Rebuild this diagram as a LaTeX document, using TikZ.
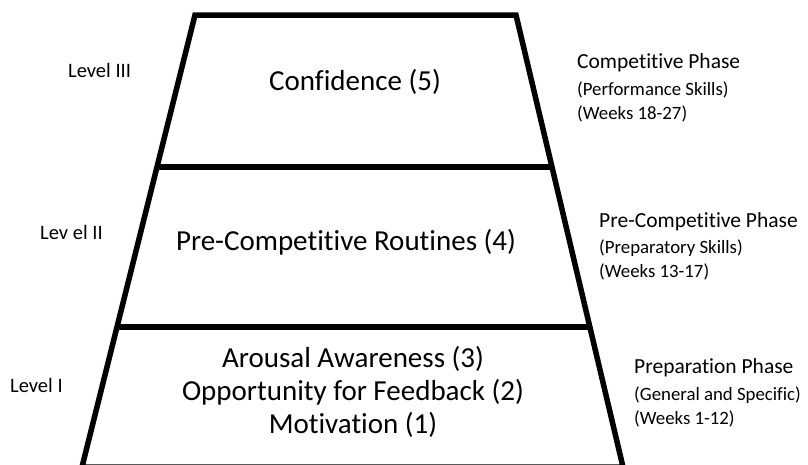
\documentclass[tikz,border=0pt]{standalone}
\usepackage{fontspec}
\setmainfont{Carlito}[Ligatures={NoCommon}]
\usetikzlibrary{calc, positioning}

\begin{document}
\begin{tikzpicture}[
    x=1pt, y=-1pt,
    frame/.style={draw=black, line width=5.5pt, line join=miter},
    divider/.style={draw=black, line width=5.5pt},
    stage/.style={align=center, inner sep=0pt, font=\fontsize{29}{34}\selectfont},
    level/.style={anchor=west, inner sep=0pt, font=\fontsize{20.5}{24}\selectfont},
    phase/.style={anchor=west, inner sep=0pt, font=\fontsize{21.5}{25}\selectfont},
    detail/.style={anchor=west, inner sep=0pt, font=\fontsize{18.8}{22}\selectfont}
]
\useasboundingbox (0,0) rectangle (808,464);

% Pyramid outline
\coordinate (tl) at (195,15);
\coordinate (tr) at (516,15);
\coordinate (bl) at (82,467);
\coordinate (br) at (623,467);
\draw[frame] (bl) -- (tl) -- (tr) -- (br) -- cycle;

% Dividers
\draw[divider] ($(tl)!0.336!(bl)$) -- ($(tr)!0.336!(br)$);
\draw[divider] ($(tl)!0.69!(bl)$) -- ($(tr)!0.69!(br)$);

% Stages
\node[stage] (confidence) at (355,82) {Confidence (5)};
\node[stage] (routines) at (346,242) {Pre-Competitive Routines (4)};
\node[stage] (arousal) at (353,359) {Arousal Awareness (3)};
\node[stage] (feedback) at (353,392) {Opportunity for Feedback (2)};
\node[stage] (motivation) at (353,425) {Motivation (1)};

% Levels
\node[level] (lvl3) at (68,70) {Level III};
\node[level] (lvl2) at (40,232) {Lev el II};
\node[level] (lvl1) at (10,385) {Level I};

% Phases
\node[phase] (comp) at (577,63) {Competitive Phase};
\node[detail] (comp1) at (577,90) {(Performance Skills)};
\node[detail] (comp2) at (577,114) {(Weeks 18-27)};

\node[phase] (precomp) at (599,222) {Pre-Competitive Phase};
\node[detail] (precomp1) at (599,248) {(Preparatory Skills)};
\node[detail] (precomp2) at (599,272) {(Weeks 13-17)};

\node[phase] (prep) at (634,368) {Preparation Phase};
\node[detail] (prep1) at (634,395) {(General and Specific)};
\node[detail] (prep2) at (634,419) {(Weeks 1-12)};

\end{tikzpicture}
\end{document}
